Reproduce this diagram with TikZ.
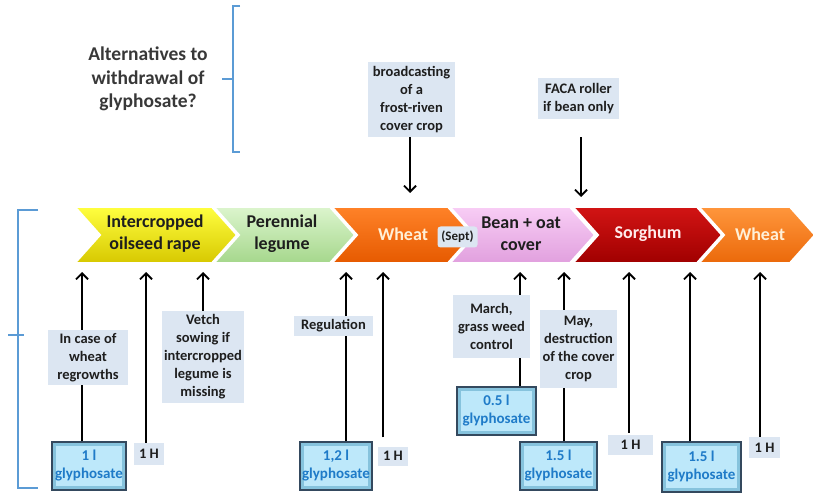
\documentclass[tikz,border=0pt]{standalone}
\usepackage{fontspec}
\setmainfont{Carlito}
\usetikzlibrary{arrows.meta}
\definecolor{lblfill}{HTML}{DCE6F2}
\definecolor{brk}{HTML}{5B9BD5}
\definecolor{gface}{HTML}{BDE8FA}
\definecolor{grim}{HTML}{86C3DD}
\definecolor{gedge}{HTML}{34495E}
\definecolor{gtext}{HTML}{1F7BC8}
\definecolor{dtext}{HTML}{1E1E1E}
\tikzset{
  lbl/.style={fill=lblfill, inner sep=0pt, align=center, text=dtext,
    font=\bfseries\fontsize{14.5}{18}\selectfont},
  gbox/.style={fill=grim, draw=gedge, line width=1.2pt, inner sep=0pt,
    align=center, text=gtext, font=\bfseries\fontsize{15}{18}\selectfont,
    path picture={\fill[gface] ([shift={(4pt,-4pt)}]path picture bounding box.north west)
      rectangle ([shift={(-4pt,4pt)}]path picture bounding box.south east);}},
  up/.style={line width=1.8pt, -{Straight Barb[length=6pt,width=12pt,line width=1.8pt]}},
  chev/.style={draw=white, line width=2pt, line join=miter},
  ctext/.style={align=center, font=\bfseries\fontsize{18}{22}\selectfont},
}
\begin{document}
\begin{tikzpicture}[x=1pt,y=-1pt]
\useasboundingbox (0,0) rectangle (813,494);
% brackets
\draw[brk, line width=2.4pt] (240,6) -- (233,6) -- (233,152) -- (240,152);
\draw[brk, line width=2.4pt] (222,79) -- (233,79);
\draw[brk, line width=2.4pt] (38,210) -- (18,210) -- (18,488) -- (38,488);
\draw[brk, line width=2.4pt] (8,335) -- (24,335);
% question
\node[align=center, text=black!78, font=\bfseries\fontsize{19.5}{23.5}\selectfont] (q) at (148,79)
  {Alternatives to\\withdrawal of\\glyphosate?};
% chevrons
\shade[chev, top color=yellow!75!white, middle color=yellow, bottom color={rgb,255:red,215;green,200;blue,0}]
  (75,207) -- (212,207) -- (237,235) -- (212,263) -- (75,263) -- (100,235) -- cycle;
\shade[chev, top color={rgb,255:red,220;green,245;blue,205}, middle color={rgb,255:red,200;green,238;blue,176}, bottom color={rgb,255:red,165;green,215;blue,140}]
  (214,207) -- (330,207) -- (355,235) -- (330,263) -- (214,263) -- (239,235) -- cycle;
\shade[chev, top color={rgb,255:red,255;green,130;blue,40}, middle color={rgb,255:red,255;green,105;blue,0}, bottom color={rgb,255:red,230;green,90;blue,0}]
  (332,207) -- (448,207) -- (473,235) -- (448,263) -- (332,263) -- (357,235) -- cycle;
\shade[chev, top color={rgb,255:red,248;green,205;blue,245}, middle color={rgb,255:red,244;green,184;blue,240}, bottom color={rgb,255:red,225;green,160;blue,222}]
  (450,207) -- (570,207) -- (595,235) -- (570,263) -- (450,263) -- (475,235) -- cycle;
\shade[chev, top color={rgb,255:red,210;green,20;blue,20}, middle color={rgb,255:red,192;green,0;blue,0}, bottom color={rgb,255:red,160;green,0;blue,0}]
  (573,207) -- (697,207) -- (722,235) -- (697,263) -- (573,263) -- (598,235) -- cycle;
\shade[chev, top color={rgb,255:red,255;green,150;blue,60}, middle color={rgb,255:red,255;green,122;blue,24}, bottom color={rgb,255:red,235;green,105;blue,10}]
  (699,207) -- (790,207) -- (815,235) -- (790,263) -- (699,263) -- (724,235) -- cycle;
\node[ctext, text=dtext] (c1) at (155,234) {Intercropped\\oilseed rape};
\node[ctext, text=dtext] (c2) at (282,234) {Perennial\\legume};
\node[ctext, text={rgb,255:red,255;green,240;blue,215}] (c3) at (403,234) {Wheat};
\node[ctext, text=dtext] (c4) at (521,234) {Bean + oat\\cover};
\node[ctext, text={rgb,255:red,255;green,235;blue,235}] (c5) at (648,234) {Sorghum};
\node[ctext, text={rgb,255:red,255;green,240;blue,215}] (c6) at (760,234) {Wheat};
\node[fill=lblfill, rounded corners=3pt, inner sep=0pt, minimum width=40pt, minimum height=21pt,
  text=dtext, font=\bfseries\fontsize{13}{15}\selectfont] (sept) at (457.5,237) {(Sept)};
% top labels
\node[lbl, minimum width=87pt, minimum height=75pt] (l6) at (411.5,99.5)
  {broadcasting\\of a\\frost-riven\\cover crop};
\node[lbl, minimum width=81pt, minimum height=41pt] (l7) at (578.5,98.5)
  {FACA roller\\if bean only};
\coordinate (d6) at (410,193);
\coordinate (d7) at (581,197);
\draw[up] (l6.south -| d6) -- (d6);
\draw[up] ([yshift=-18pt]l7.south -| d7) -- (d7);
% bottom boxes
\node[gbox, minimum width=74pt, minimum height=48pt] (g1) at (89,466) {1 l\\glyphosate};
\node[gbox, minimum width=72pt, minimum height=48pt] (g2) at (336,466) {1,2 l\\glyphosate};
\node[gbox, minimum width=79pt, minimum height=48pt] (g3) at (496.5,411) {0.5 l\\glyphosate};
\node[gbox, minimum width=77pt, minimum height=48pt] (g4) at (558.5,466) {1.5 l\\glyphosate};
\node[gbox, minimum width=79pt, minimum height=50pt] (g5) at (701.5,467) {1.5 l\\glyphosate};
\node[lbl, minimum width=30pt, minimum height=22pt] (h1) at (149,454) {1 H};
\node[lbl, minimum width=30pt, minimum height=19pt] (h2) at (393,456) {1 H};
\node[lbl, minimum width=45pt, minimum height=20pt] (h3) at (630.5,445) {1 H};
\node[lbl, minimum width=31pt, minimum height=21pt] (h4) at (764.5,447.5) {1 H};
% arrow tips
\coordinate (t1) at (82,272);
\coordinate (t2) at (146,272);
\coordinate (t3) at (203,272);
\coordinate (t4) at (346,272);
\coordinate (t5) at (383,272);
\coordinate (t6) at (520,272);
\coordinate (t7) at (564,272);
\coordinate (t8) at (629,272);
\coordinate (t9) at (690,272);
\coordinate (t10) at (760,272);
\draw[up] (t1 |- g1.north) -- (t1);
\draw[up] (t2 |- h1.north) -- (t2);
\draw[up] (t4 |- g2.north) -- (t4);
\draw[up] ([yshift=9pt]t5 |- h2.north) -- (t5);
\draw[up] (t6 |- g3.north) -- (t6);
\draw[up] (t7 |- g4.north) -- (t7);
\draw[up] ([yshift=2pt]t8 |- h3.north) -- (t8);
\draw[up] (t9 |- g5.north) -- (t9);
\draw[up] (t10 |- h4.north) -- (t10);
% bottom labels (over arrows)
\node[lbl, minimum width=80pt, minimum height=55pt] (l1) at (88,357.5)
  {In case of\\wheat\\regrowths};
\node[lbl, minimum width=82pt, minimum height=92pt] (l2) at (203,357)
  {Vetch\\sowing if\\intercropped\\legume is\\missing};
\draw[up] (l2.north -| t3) -- (t3);
\node[lbl, minimum width=79pt, minimum height=20pt] (l3) at (333.5,326) {Regulation};
\node[lbl, minimum width=77pt, minimum height=63pt] (l4) at (491.5,326.5)
  {March,\\grass weed\\control};
\node[lbl, minimum width=77pt, minimum height=78pt] (l5) at (578.5,349)
  {May,\\destruction\\of the cover\\crop};
\end{tikzpicture}
\end{document}
